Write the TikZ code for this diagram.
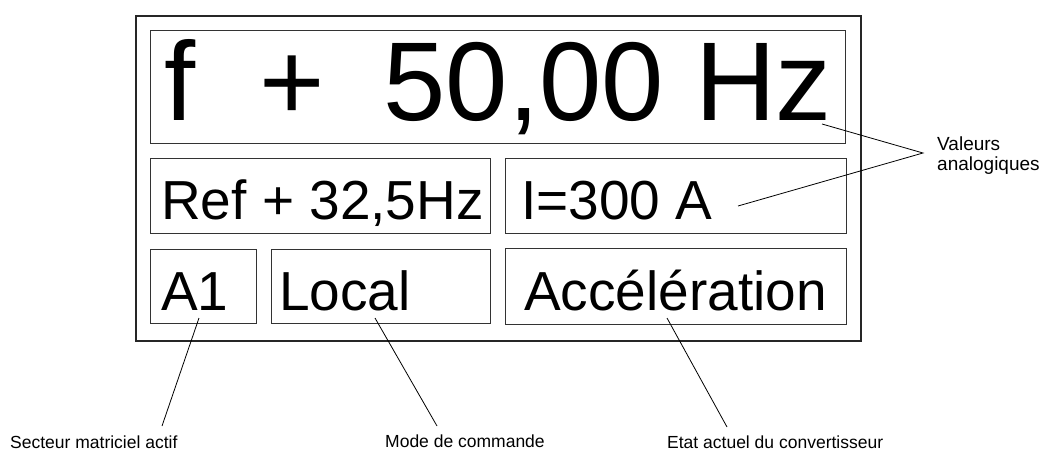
\documentclass[tikz,border=0pt]{standalone}
\usepackage{fontspec}
\setmainfont{Liberation Sans}
\begin{document}
\begin{tikzpicture}[x=1pt,y=-1pt,
  frame/.style={draw=black!85, line width=1.8pt, inner sep=0pt, anchor=north west},
  field/.style={draw=black!80, line width=1.2pt, inner sep=0pt, anchor=north west},
  bigtxt/.style={inner sep=0pt, anchor=base west, font=\fontsize{112}{112}\selectfont},
  valtxt/.style={inner sep=0pt, anchor=base west, font=\fontsize{55}{55}\selectfont},
  lbl/.style={inner sep=0pt, anchor=base west, font=\fontsize{17.5}{20}\selectfont},
  lead/.style={draw=black, line width=0.8pt}]
\useasboundingbox (0,0) rectangle (1046,452);
% frame and fields
\node[frame, minimum width=725pt, minimum height=325pt] (outer) at (135,15) {};
\node[field, minimum width=695pt, minimum height=113pt] (fbox) at (150,30) {};
\node[field, minimum width=340pt, minimum height=75pt] (refbox) at (150,158) {};
\node[field, minimum width=341pt, minimum height=75pt] (ibox) at (505,158) {};
\node[field, minimum width=106pt, minimum height=74pt] (a1box) at (150,249) {};
\node[field, minimum width=219pt, minimum height=74pt] (locbox) at (271,249) {};
\node[field, minimum width=341pt, minimum height=76pt] (accbox) at (505,248) {};
% texts
\node[bigtxt] (ftxt) at (164,120) {f\hspace{64pt}+\hspace{59pt}50,00 Hz};
\node[valtxt] (reftxt) at (161,219) {Ref + 32,5Hz};
\node[valtxt] (itxt) at (521,219) {I=300 A};
\node[valtxt] (a1txt) at (161,310) {A1};
\node[valtxt] (loctxt) at (279,310) {Local};
\node[valtxt] (acctxt) at (524,310) {Accélération};
% labels
\node[lbl, align=left, anchor=north west, font=\fontsize{19}{20}\selectfont] (val) at (937,137) {Valeurs\\analogiques};
\node[lbl] (sect) at (10,448) {Secteur matriciel actif};
\node[lbl] (mode) at (385,447) {Mode de commande};
\node[lbl] (etat) at (667,448) {Etat actuel du convertisseur};
% leader end points
\coordinate (pf) at (822,124);
\coordinate (pi) at (738,206);
\coordinate (pv) at (923,153);
\coordinate (pa1) at (199,318);
\coordinate (ps) at (162,426);
\coordinate (ploc) at (375,318);
\coordinate (pm) at (437,426);
\coordinate (pacc) at (667,318);
\coordinate (pe) at (727,427);
% leaders
\draw[lead] (pf) -- (pv) -- (pi);
\draw[lead] (pa1) -- (ps);
\draw[lead] (ploc) -- (pm);
\draw[lead] (pacc) -- (pe);
\end{tikzpicture}
\end{document}
